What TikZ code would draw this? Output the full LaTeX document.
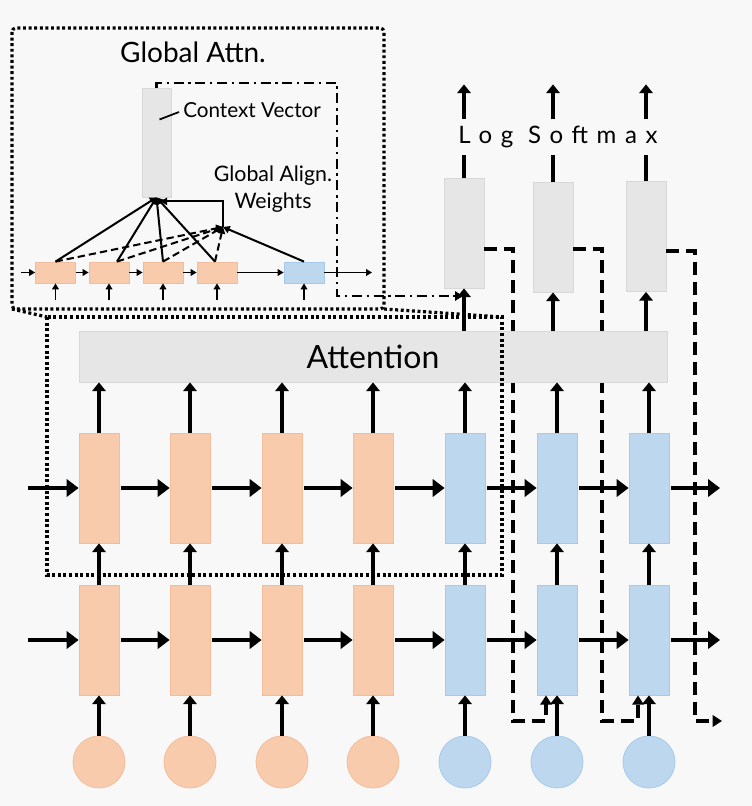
\documentclass[tikz,border=0pt]{standalone}
\usepackage{fontspec}
\setmainfont{Lato}
\usetikzlibrary{arrows.meta,calc}

\definecolor{bgcol}{HTML}{F8F8F8}
\definecolor{encfill}{HTML}{F8CBAD}
\definecolor{encline}{HTML}{F3BD9B}
\definecolor{decfill}{HTML}{BDD7EE}
\definecolor{decline}{HTML}{A8CAEA}
\definecolor{grayfill}{HTML}{E6E6E6}
\definecolor{grayline}{HTML}{D8D8D8}

\tikzset{
  cell/.style={rectangle, inner sep=0pt, minimum width=30pt, minimum height=82.5pt, line width=0.6pt},
  enccell/.style={cell, fill=encfill, draw=encline},
  deccell/.style={cell, fill=decfill, draw=decline},
  outcell/.style={cell, fill=grayfill, draw=grayline},
  minicell/.style={cell, minimum height=15.75pt},
  word/.style={circle, inner sep=0pt, minimum size=39pt, line width=0.6pt},
  hflow/.style={line width=2.7pt, -{Triangle[length=9pt,width=13pt]}},
  vflow/.style={line width=2.3pt, -{Triangle[length=6.5pt,width=10pt]}},
  miniflow/.style={line width=1.4pt, -{Triangle[length=4.5pt,width=5pt]}},
  miniline/.style={line width=1.5pt, -{Triangle[length=5pt,width=5.5pt]}},
  feedback/.style={line width=2.4pt, dash pattern=on 9.5pt off 5.5pt, -{Triangle[length=7pt,width=8.5pt]}},
  zoomframe/.style={line width=2.4pt, dash pattern=on 2.2pt off 2pt},
  ctxpath/.style={line width=1.8pt, dash pattern=on 7.5pt off 3.5pt on 1.8pt off 3.5pt, -{Triangle[length=6pt,width=7pt]}},
}

\begin{document}
\begin{tikzpicture}[x=0.75pt, y=-0.75pt, font=\fontsize{16pt}{20pt}\selectfont]
  % canvas
  \fill[bgcol] (0,0) rectangle (752,806);
  \useasboundingbox (0,0) rectangle (752,806);

  % log softmax outputs
  \node[outcell] (sm1) at (464,233) {};
  \node[outcell] (sm2) at (553,237) {};
  \node[outcell] (sm3) at (646,236.5) {};
  \node[font=\fontsize{18pt}{20pt}\selectfont\addfontfeature{LetterSpace=36}, minimum height=26pt, inner sep=0pt] (lsm) at (558,137) {Log Softmax};
  \foreach \i in {1,2,3} {
    \draw[line width=2.3pt] (sm\i.north) -- (sm\i.north |- lsm.south);
    \draw[vflow] (sm\i.north |- lsm.north) -- ++(0,-35);
  }

  % encoder (orange) and decoder (blue) columns
  \foreach \i/\x in {1/99,2/190,3/282,4/373} {
    \node[word, fill=encfill, draw=encline] (emb\i) at (\x,762) {};
    \node[enccell] (lo\i) at (\x,640) {};
    \node[enccell] (hi\i) at (\x,488) {};
  }
  \foreach \i/\x in {5/465,6/557,7/649} {
    \node[word, fill=decfill, draw=decline] (emb\i) at (\x,762) {};
    \node[deccell] (lo\i) at (\x,640) {};
    \node[deccell] (hi\i) at (\x,488) {};
  }

  % previous output fed back in
  \draw[feedback] ($(sm1.east)+(0,16)$) -| (513,721) -| ($(lo6.south)+(-11,0)$);
  \draw[feedback] ($(sm2.east)+(0,12)$) -| (602,721) -| ($(lo7.south)+(-11,0)$);
  \draw[feedback] ($(sm3.east)+(0,14.5)$) -| (695,721) -- (722,721);

  % attention layer
  \node[fill=grayfill, draw=grayline, line width=0.6pt, minimum width=441pt, minimum height=38.25pt, inner sep=0pt, font=\fontsize{24pt}{28pt}\selectfont] (att) at (373,356.5) {Attention};

  \foreach \i in {1,...,7} {
    \draw[vflow] (emb\i) -- (lo\i);
    \draw[vflow] (lo\i) -- (hi\i);
    \draw[vflow] (hi\i) -- (hi\i |- att.south);
  }
  \foreach \i in {1,2,3}
    \draw[vflow] (sm\i.south |- att.north) -- (sm\i);

  \coordinate (hiin) at (28,488);
  \coordinate (loin) at (28,640);
  \coordinate (hiout) at (720,488);
  \coordinate (loout) at (720,640);
  \draw[hflow] (hiin) -- (hi1);
  \draw[hflow] (loin) -- (lo1);
  \foreach \i/\j in {1/2,2/3,3/4,4/5,5/6,6/7} {
    \draw[hflow] ($(hi\i.east)+(2,0)$) -- (hi\j);
    \draw[hflow] ($(lo\i.east)+(2,0)$) -- (lo\j);
  }
  \draw[hflow] ($(hi7.east)+(2,0)$) -- (hiout);
  \draw[hflow] ($(lo7.east)+(2,0)$) -- (loout);

  % zoomed view of global attention
  \node[font=\fontsize{21pt}{24pt}\selectfont] (title) at (193,52) {Global Attn.};
  \node[outcell, minimum width=21.75pt, minimum height=81.75pt] (cv) at (156.5,142.5) {};
  \node[anchor=west, inner sep=0pt, font=\fontsize{15.5pt}{20pt}\selectfont] (cvlabel) at (183,110) {Context Vector};
  \draw[line width=1.3pt] ($(cv.center)+(3,-23)$) -- ($(cvlabel.west)+(-4,2)$);
  \node[align=center] (awlabel) at (273,189) {Global Align.\\Weights};

  \foreach \i/\x in {1/55.5,2/109,3/163,4/217}
    \node[minicell, fill=encfill, draw=encline] (s\i) at (\x,272.5) {};
  \node[minicell, fill=decfill, draw=decline] (s5) at (304,272.5) {};

  \coordinate (sin) at (21,272.5);
  \coordinate (sout) at (372,272.5);
  \draw[miniflow] (sin) -- (s1);
  \foreach \i/\j in {1/2,2/3,3/4,4/5} \draw[miniflow] (s\i) -- (s\j);
  \draw[miniflow] (s5) -- (sout);
  \foreach \i in {1,...,5} \draw[miniflow] ($(s\i.south)+(0,17)$) -- (s\i);

  \coordinate (aw) at (223,227);
  \foreach \i/\dx in {1/0,2/8,3/0,4/-2} {
    \draw[miniline] ($(s\i.north)+(\dx,0)$) -- (cv.south);
    \draw[miniline, dash pattern=on 5.5pt off 3pt] ($(s\i.north)+(\dx,0)$) -- (aw);
  }
  \draw[miniline] (s5.north) -- (aw);
  \draw[miniline] (aw) |- ($(cv.south)+(4,4)$);

  % context vector handed to the decoder
  \coordinate (ctxtop) at (337,83);
  \coordinate (ctxturn) at (337,296);
  \coordinate (ctxin) at (463,296);
  \draw[ctxpath] (cv.north) |- (ctxtop) -- (ctxturn) -- (ctxin);

  % zoom frame
  \draw[zoomframe, rounded corners=3pt] (12,28) rectangle (384,309);
  \draw[zoomframe] (47,317) rectangle (502,575);
  \draw[zoomframe] (12,309) -- (47,317) (384,309) -- (502,317);
\end{tikzpicture}
\end{document}
